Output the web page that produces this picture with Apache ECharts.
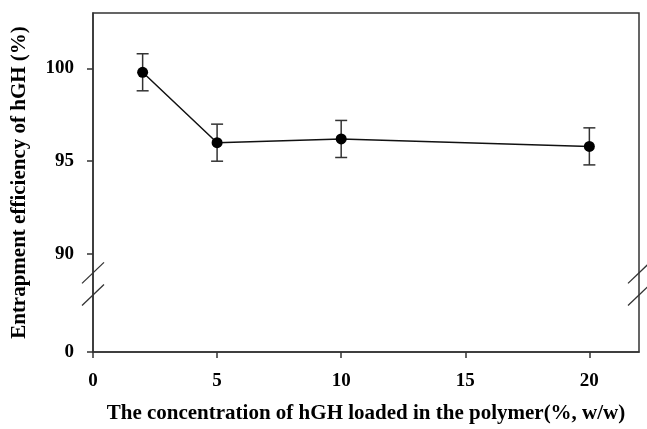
<!DOCTYPE html>
<html>
<head>
<meta charset="utf-8">
<script src="https://cdn.jsdelivr.net/npm/echarts@6/dist/echarts.min.js"></script>
<style>html,body{margin:0;padding:0;background:#fff;}#c{width:647px;height:429px;}</style>
</head>
<body>
<div id="c"></div>
<script>
// Data
const concentrations = [2, 5, 10, 20];
const efficiency = [99.8, 96.0, 96.2, 95.8];
const errors = [1.0, 1.0, 1.0, 1.0];
const xTicks = [0, 5, 10, 15, 20];
const yTicks = [0, 90, 95, 100];

// Broken axis: real value 0 is drawn at this position on the scale
const ZERO_POS = 84.7;
const Y_MAX = 103;
const toAxis = v => (v < 50 ? ZERO_POS : v);

const font = '"Liberation Serif", "Times New Roman", serif';
const axisColor = '#333';

const chart = echarts.init(document.getElementById('c'));
const seriesData = concentrations.map((x, i) => [x, efficiency[i]]);
const errData = concentrations.map((x, i) => [x, efficiency[i] - errors[i], efficiency[i] + errors[i]]);

chart.setOption({
  animation: false,
  backgroundColor: '#fff',
  grid: { left: 93, right: 8, top: 13, bottom: 77, show: true, borderColor: axisColor, borderWidth: 1.5 },
  xAxis: {
    type: 'value', min: 0, max: 22,
    name: 'The concentration of hGH loaded in the polymer(%, w/w)',
    nameLocation: 'middle', nameGap: 51,
    nameTextStyle: { fontFamily: font, fontWeight: 'bold', fontSize: 21, color: '#000' },
    axisLine: { show: true, onZero: false, lineStyle: { color: axisColor, width: 1.5 } },
    axisTick: { show: true, length: 6, customValues: xTicks, lineStyle: { color: axisColor, width: 1.5 } },
    axisLabel: { customValues: xTicks, margin: 20, fontFamily: font, fontWeight: 'bold', fontSize: 19, color: '#000' },
    splitLine: { show: false }
  },
  yAxis: {
    type: 'value', min: ZERO_POS, max: Y_MAX,
    name: 'Entrapment efficiency of hGH (%)',
    nameLocation: 'middle', nameGap: 63,
    nameTextStyle: { fontFamily: font, fontWeight: 'bold', fontSize: 21, color: '#000' },
    axisLine: { show: true, onZero: false, lineStyle: { color: axisColor, width: 1.5 } },
    axisTick: { show: true, length: 6, customValues: yTicks.map(toAxis), lineStyle: { color: axisColor, width: 1.5 } },
    axisLabel: {
      customValues: yTicks.map(toAxis), margin: 19,
      fontFamily: font, fontWeight: 'bold', fontSize: 19, color: '#000',
      formatter: v => (Math.abs(v - ZERO_POS) < 0.01 ? '0' : String(Math.round(v)))
    },
    splitLine: { show: false }
  },
  series: [
    {
      type: 'custom',
      data: errData,
      z: 1,
      renderItem: function (params, api) {
        const x = api.value(0);
        const lo = api.coord([x, api.value(1)]);
        const hi = api.coord([x, api.value(2)]);
        const w = 6;
        const st = { stroke: '#333', lineWidth: 1.5 };
        return {
          type: 'group',
          children: [
            { type: 'line', shape: { x1: lo[0], y1: lo[1], x2: hi[0], y2: hi[1] }, style: st },
            { type: 'line', shape: { x1: lo[0] - w, y1: lo[1], x2: lo[0] + w, y2: lo[1] }, style: st },
            { type: 'line', shape: { x1: hi[0] - w, y1: hi[1], x2: hi[0] + w, y2: hi[1] }, style: st }
          ]
        };
      }
    },
    {
      type: 'line',
      data: seriesData,
      z: 2,
      symbol: 'circle', symbolSize: 11,
      lineStyle: { color: '#111', width: 1.5 },
      itemStyle: { color: '#000' }
    }
  ]
});

// Axis break slashes, positioned through the axis scale
function drawBreaks() {
  const gridModel = chart.getModel().getComponent('grid', 0);
  const rect = gridModel.coordinateSystem.getRect();
  const ys = [88.97, 87.78].map(v => chart.convertToPixel({ gridIndex: 0 }, [0, v])[1]);
  const els = [];
  const addPair = (cx) => {
    ys.forEach(y => {
      els.push({
        type: 'line',
        shape: { x1: cx - 11, y1: y + 10.5, x2: cx + 11, y2: y - 10.5 },
        style: { stroke: '#333', lineWidth: 1.3 },
        z: 10
      });
    });
  };
  addPair(rect.x);
  addPair(rect.x + rect.width);
  chart.setOption({ graphic: els });
}
drawBreaks();
</script>
</body>
</html>
